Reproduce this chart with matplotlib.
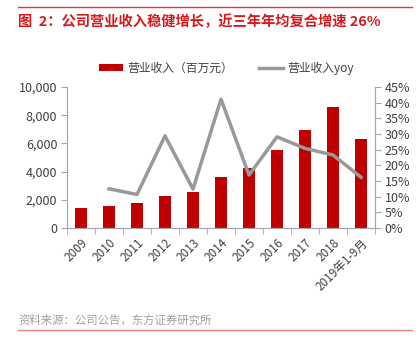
import numpy as np
import matplotlib
matplotlib.use('Agg')
import matplotlib.pyplot as plt
from matplotlib.lines import Line2D
from matplotlib.ticker import FuncFormatter, MultipleLocator

plt.rcParams['font.family'] = ['Noto Sans CJK SC', 'DejaVu Sans']

anos = ['2009', '2010', '2011', '2012', '2013', '2014', '2015', '2016', '2017', '2018', '2019年1-9月']
receita = [1420, 1580, 1770, 2290, 2530, 3620, 4280, 5530, 6930, 8580, 6290]
yoy = [np.nan, 12.5, 10.7, 29.4, 12.4, 41.1, 16.9, 29.1, 25.4, 23.3, 16.2]

vermelho = '#C00000'
cinza = '#999999'
eixo = '#A6A6A6'
texto = '#404040'

fig = plt.figure(figsize=(4.2, 3.55), dpi=100)
ax = fig.add_axes([67/420, 1-228/355, 308/420, 141/355])
ax2 = ax.twinx()

x = np.arange(len(anos))
ax.bar(x, receita, width=0.42, color=vermelho, label='营业收入（百万元）', zorder=2)
ax2.plot(x, yoy, color=cinza, lw=2.5, label='营业收入yoy', zorder=3)

ax.set_xlim(-0.5, len(anos) - 0.5)
ax.set_ylim(0, 10000)
ax2.set_ylim(0, 45)
ax.yaxis.set_major_locator(MultipleLocator(2000))
ax2.yaxis.set_major_locator(MultipleLocator(5))
ax.yaxis.set_major_formatter(FuncFormatter(lambda v, p: f'{int(v):,}'))
ax2.yaxis.set_major_formatter(FuncFormatter(lambda v, p: f'{int(v)}%'))

ax.set_xticks(x)
ax.set_xticklabels(anos, rotation=45, ha='right', rotation_mode='anchor')
ax.set_xticks(np.arange(-0.5, len(anos)), minor=True)
ax.tick_params(axis='x', which='major', length=0, pad=6, labelsize=8.5, labelcolor=texto)
ax.tick_params(axis='x', which='minor', length=4, color=eixo)
ax.tick_params(axis='y', length=4, color=eixo, labelsize=9, labelcolor=texto, pad=3)
ax2.tick_params(axis='y', length=4, color=eixo, labelsize=9, labelcolor=texto, pad=3)

for a in (ax, ax2):
    a.spines['top'].set_visible(False)
    for s in ('left', 'right', 'bottom'):
        a.spines[s].set_color(eixo)

h1, l1 = ax.get_legend_handles_labels()
h2, l2 = ax2.get_legend_handles_labels()
fig.legend(h1 + h2, l1 + l2, loc='center', bbox_to_anchor=(0.54, 1-68/355), ncol=2,
           frameon=False, fontsize=8.5, labelcolor=texto, handlelength=2.0,
           handleheight=0.5, columnspacing=2.2, handletextpad=0.4)

fig.add_artist(Line2D([18/420, 412/420], [1-7/355, 1-7/355], color='#E03C3C', lw=1))
fig.add_artist(Line2D([18/420, 412/420], [1-330/355, 1-330/355], color='#F08080', lw=1))
fig.text(18/420, 1-22/355, '图  2：公司营业收入稳健增长，近三年年均复合增速 26%', color='#D7191C',
         fontsize=10.3, fontweight='bold', va='center', ha='left')
fig.text(18/420, 1-320/355, '资料来源：公司公告，东方证券研究所', color='#A0A0A0',
         fontsize=8.2, va='center', ha='left')

fig.savefig('out.png', dpi=100)
